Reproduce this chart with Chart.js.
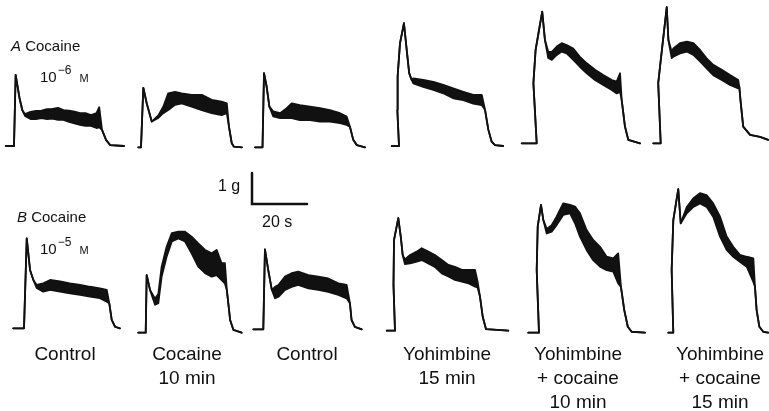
<!DOCTYPE html>
<html lang="en">
<head>
  <meta charset="UTF-8">
  <script src="https://cdn.jsdelivr.net/npm/chart.js"></script>
  <title>Cocaine / yohimbine contractions</title>
  <style>
    body { margin: 0; background: #fff; }
    #wrap { position: relative; width: 769px; height: 411px; overflow: hidden; font-family: "Liberation Sans", Arial, sans-serif; color: #111; }
    canvas { position: absolute; left: 0; top: 0; }
    .lbl { position: absolute; white-space: nowrap; line-height: 1; }
    .col { position: absolute; transform: translateX(-50%); text-align: center; font-size: 19px; line-height: 24px; white-space: nowrap; top: 342px; }
    .sc { font-variant: small-caps; margin-left: 8px; }
    sup { font-size: 12px; position: relative; top: -2px; margin-left: 1px; }
  </style>
</head>
<body>
  <div id="wrap">
    <canvas id="chart" width="769" height="411"></canvas>

    <div class="lbl" style="left:11px;top:38px;font-size:15px"><i>A</i> Cocaine</div>
    <div class="lbl" style="left:40px;top:66px;font-size:15px">10<sup>−6</sup><span class="sc">m</span></div>
    <div class="lbl" style="left:17px;top:209px;font-size:15px"><i>B</i> Cocaine</div>
    <div class="lbl" style="left:40px;top:238px;font-size:15px">10<sup>−5</sup><span class="sc">m</span></div>
    <div class="lbl" style="left:218px;top:178px;font-size:16px">1 g</div>
    <div class="lbl" style="left:262px;top:214px;font-size:16px">20 s</div>

    <div class="col" style="left:65px">Control</div>
    <div class="col" style="left:187px">Cocaine<br>10 min</div>
    <div class="col" style="left:307px">Control</div>
    <div class="col" style="left:447px">Yohimbine<br>15 min</div>
    <div class="col" style="left:578px">Yohimbine<br>+ cocaine<br>10 min</div>
    <div class="col" style="left:720px">Yohimbine<br>+ cocaine<br>15 min</div>
  </div>

  <script>
    // time (s) from stimulus onset, tension (g) above baseline: lower / upper edge of the noisy trace
    // row A: cocaine 1e-6 M
    const a1_t  = [-3, 0, 0.6, 2, 3, 4, 6, 8, 10, 12, 14, 16, 18, 20, 22, 24, 26, 28, 30, 31, 32, 33.5, 35, 40];
    const a1_lo = [0, 0, 2.29, 1.55, 1.16, 0.97, 0.87, 0.87, 0.90, 0.87, 0.88, 0.84, 0.84, 0.78, 0.73, 0.68, 0.65, 0.65, 0.58, 0.60, 0.52, 0.19, 0.03, 0];
    const a1_hi = [0, 0, 2.29, 1.55, 1.16, 1.03, 1.10, 1.13, 1.14, 1.19, 1.20, 1.23, 1.16, 1.14, 1.11, 1.06, 1.06, 1.00, 1.06, 1.25, 0.52, 0.19, 0.03, 0];

    const a2_t  = [-1, 0, 0.84, 2.07, 3.9, 6.3, 8.1, 9.9, 12.4, 14.8, 18.4, 22.1, 25.7, 29.3, 31.2, 32.0, 33.0, 33.8, 36.7];
    const a2_lo = [0, 0, 1.92, 1.42, 0.83, 0.95, 1.10, 1.20, 1.37, 1.42, 1.31, 1.20, 1.10, 1.04, 1.10, 0.66, 0.13, 0.02, 0];
    const a2_hi = [0, 0, 1.92, 1.42, 0.83, 1.03, 1.31, 1.74, 1.79, 1.74, 1.69, 1.69, 1.53, 1.47, 1.42, 0.66, 0.13, 0.02, 0];

    const a3_t  = [-2.7, 0, 0.55, 1.5, 2.5, 3.9, 6.4, 8.8, 10.6, 13.6, 17.3, 20.9, 24.5, 28.2, 30.6, 31.8, 33.0, 34.3, 37.3];
    const a3_lo = [0, 0, 2.39, 1.96, 1.31, 1.00, 0.94, 0.94, 0.94, 0.88, 0.88, 0.83, 0.83, 0.78, 0.72, 0.66, 0.24, 0.07, 0];
    const a3_hi = [0, 0, 2.39, 1.96, 1.31, 1.16, 1.10, 1.26, 1.42, 1.36, 1.31, 1.26, 1.20, 1.10, 0.99, 0.66, 0.24, 0.07, 0];

    const a4_t  = [-2.65, 0, -0.6, -0.5, 0.36, 1.8, 2.8, 3.7, 4.6, 5.2, 8.8, 12.5, 16.1, 19.7, 23.4, 27.0, 30.1, 31.3, 32.5, 33.7, 34.9, 37.9];
    const a4_lo = [0, 0, 1.16, 2.24, 3.31, 3.96, 3.10, 2.35, 2.13, 2.02, 1.91, 1.81, 1.70, 1.54, 1.48, 1.37, 1.32, 1.16, 0.52, 0.14, 0.03, 0];
    const a4_hi = [0, 0, 1.16, 2.24, 3.31, 3.96, 3.10, 2.35, 2.13, 2.18, 2.13, 2.07, 1.97, 1.86, 1.75, 1.65, 1.65, 1.16, 0.52, 0.14, 0.03, 0];

    const a5_t  = [-5.45, 0, -1.2, -0.4, 2.0, 3.0, 4.2, 5.5, 7.3, 9.1, 10.9, 13.3, 15.7, 18.2, 21.2, 24.2, 27.3, 29.1, 30.3, 30.9, 32.1, 33.3, 37.6];
    const a5_lo = [0, 0, 1.94, 3.01, 4.25, 3.33, 2.75, 2.69, 2.85, 2.96, 2.90, 2.69, 2.47, 2.26, 2.04, 1.88, 1.72, 1.61, 1.66, 1.40, 0.54, 0.11, 0];
    const a5_hi = [0, 0, 1.94, 3.01, 4.25, 3.33, 2.95, 2.95, 3.12, 3.23, 3.17, 3.06, 2.79, 2.58, 2.37, 2.20, 2.04, 1.99, 2.26, 1.40, 0.54, 0.11, 0];

    const a6_t  = [-2.7, 0, -0.9, -0.25, 2.2, 2.8, 4.0, 4.6, 7.0, 9.5, 11.9, 14.3, 16.7, 19.1, 22.2, 25.2, 28.2, 28.6, 29.0, 30.0, 32.5, 36.1, 39.1];
    const a6_lo = [0, 0, 1.94, 2.47, 4.39, 3.33, 2.75, 2.79, 2.90, 2.96, 2.85, 2.64, 2.42, 2.20, 2.04, 1.88, 1.77, 1.81, 1.40, 0.54, 0.27, 0.21, 0.11];
    const a6_hi = [0, 0, 1.94, 2.47, 4.39, 3.33, 2.95, 3.06, 3.23, 3.28, 3.23, 3.01, 2.74, 2.53, 2.37, 2.20, 2.04, 1.81, 1.40, 0.54, 0.27, 0.21, 0.11];

    // row B: cocaine 1e-5 M
    const b1_t  = [-3.9, 0, 1.0, 2.2, 3.4, 4.6, 7.0, 9.5, 13.1, 16.7, 20.4, 24.0, 27.6, 30.1, 31.0, 31.9, 33.1, 34.9];
    const b1_lo = [0, 0, 2.90, 1.88, 1.56, 1.30, 1.18, 1.24, 1.18, 1.13, 1.08, 1.02, 0.97, 0.86, 0.81, 0.27, 0.05, 0];
    const b1_hi = [0, 0, 2.90, 1.88, 1.56, 1.40, 1.45, 1.56, 1.51, 1.45, 1.40, 1.34, 1.29, 1.24, 0.81, 0.27, 0.05, 0];

    const b2_t  = [-2.7, 0, 0.36, 1.56, 3.4, 4.6, 5.0, 5.8, 7.6, 9.5, 11.9, 14.3, 16.7, 19.1, 21.6, 24.0, 25.8, 27.6, 28.8, 29.5, 30.7, 31.9, 34.9];
    const b2_lo = [0, 0, 1.86, 1.38, 0.90, 0.95, 1.25, 1.81, 2.45, 2.94, 3.04, 2.94, 2.56, 2.13, 1.92, 1.81, 1.86, 1.70, 1.59, 1.38, 0.41, 0.09, 0];
    const b2_hi = [0, 0, 1.86, 1.38, 1.10, 1.25, 1.55, 2.13, 2.77, 3.21, 3.26, 3.26, 3.10, 2.88, 2.67, 2.56, 2.67, 2.24, 2.24, 1.38, 0.41, 0.09, 0];

    const b3_t  = [-3.6, 0, 0.6, 1.8, 3.1, 4.3, 5.5, 7.9, 10.3, 12.7, 16.4, 20.0, 23.6, 27.3, 30.3, 31.5, 32.1, 33.3, 35.8];
    const b3_lo = [0, 0, 2.58, 1.91, 1.27, 1.00, 1.05, 1.27, 1.37, 1.43, 1.32, 1.27, 1.21, 1.11, 1.00, 0.84, 0.30, 0.08, 0];
    const b3_hi = [0, 0, 2.58, 1.91, 1.27, 1.37, 1.43, 1.70, 1.81, 1.86, 1.75, 1.70, 1.64, 1.48, 1.43, 0.84, 0.30, 0.08, 0];

    const b4_t  = [-3.0, 0, -0.55, -0.36, 0.36, 1.2, 2.1, 2.8, 3.6, 5.5, 7.9, 9.7, 12.1, 14.5, 17.0, 19.4, 21.8, 24.3, 26.7, 29.1, 30.0, 30.9, 31.9, 33.1, 41.2];
    const b4_lo = [0, 0, 1.47, 2.92, 3.25, 3.63, 3.03, 2.44, 2.15, 2.17, 2.23, 2.28, 2.17, 2.06, 1.85, 1.75, 1.64, 1.58, 1.53, 1.42, 1.40, 1.10, 0.45, 0.05, 0];
    const b4_hi = [0, 0, 1.47, 2.92, 3.25, 3.63, 3.03, 2.44, 2.30, 2.44, 2.55, 2.66, 2.55, 2.44, 2.28, 2.12, 2.06, 1.96, 1.96, 1.96, 1.60, 1.10, 0.45, 0.05, 0];

    const b5_t  = [-3.9, 0, -0.84, -0.47, 0.73, 1.56, 2.8, 4.6, 6.4, 8.8, 11.3, 13.1, 14.9, 17.3, 19.7, 22.2, 24.6, 27.0, 28.8, 29.8, 31.0, 32.3, 33.7, 38.5];
    const b5_lo = [0, 0, 2.02, 3.42, 4.12, 3.64, 3.20, 3.26, 3.47, 3.80, 3.85, 3.53, 3.10, 2.67, 2.34, 2.13, 2.02, 1.97, 1.59, 1.48, 0.73, 0.19, 0.03, 0];
    const b5_hi = [0, 0, 2.02, 3.42, 4.12, 3.64, 3.35, 3.47, 3.74, 4.17, 4.12, 4.07, 3.85, 3.31, 2.99, 2.77, 2.45, 2.40, 2.56, 1.48, 0.73, 0.19, 0.03, 0];

    const b6_t  = [-1.8, 0, -0.6, 0, 1.8, 2.7, 4.9, 7.3, 9.7, 12.1, 14.5, 17.0, 19.4, 21.8, 24.2, 26.7, 29.1, 29.7, 30.3, 31.3, 32.7, 34.5];
    const b6_lo = [0, 0, 2.02, 3.63, 4.63, 3.53, 3.85, 4.06, 4.17, 4.06, 3.74, 3.10, 2.67, 2.45, 2.29, 2.13, 1.64, 1.48, 0.73, 0.19, 0.03, 0];
    const b6_hi = [0, 0, 2.02, 3.63, 4.63, 3.53, 4.05, 4.34, 4.50, 4.44, 4.17, 3.74, 3.10, 2.77, 2.51, 2.45, 2.40, 1.48, 0.73, 0.19, 0.03, 0];

    // calibration bar: 1 g, 20 s
    const bar_t = [0, 0, 20];
    const bar_g = [1, 0, 0];

    // page layout (px): stimulus onset x, baseline y of every panel
    const W = 769, H = 411, PX_S = 2.75, PX_G = 31;
    const panels = [
      [a1_t, a1_lo, a1_hi, 14, 146], [a2_t, a2_lo, a2_hi, 141, 147.3], [a3_t, a3_lo, a3_hi, 262.5, 147.3],
      [a4_t, a4_lo, a4_hi, 399, 146], [a5_t, a5_lo, a5_hi, 536.7, 143.3], [a6_t, a6_lo, a6_hi, 660.7, 143.3],
      [b1_t, b1_lo, b1_hi, 24, 328.3], [b2_t, b2_lo, b2_hi, 145.7, 332.7], [b3_t, b3_lo, b3_hi, 263.3, 329.3],
      [b4_t, b4_lo, b4_hi, 395, 330.7], [b5_t, b5_lo, b5_hi, 539, 332.7], [b6_t, b6_lo, b6_hi, 673.3, 332.7]
    ];

    function place(t, g, ox, oy) {
      return t.map((v, i) => ({ x: ox / PX_S + v, y: (H - oy) / PX_G + g[i] }));
    }

    const datasets = [];
    panels.forEach(([t, lo, hi, ox, oy]) => {
      datasets.push({ data: place(t, lo, ox, oy), borderColor: "#111", borderWidth: 1.8, fill: false });
      datasets.push({ data: place(t, hi, ox, oy), borderColor: "#111", borderWidth: 1.8, fill: "-1", backgroundColor: "#111" });
    });
    datasets.push({ data: place(bar_t, bar_g, 252, 204), borderColor: "#111", borderWidth: 2.5, fill: false, borderJoinStyle: "miter" });

    new Chart(document.getElementById("chart"), {
      type: "line",
      data: { datasets },
      options: {
        responsive: false,
        animation: false,
        layout: { padding: 0 },
        elements: { point: { radius: 0 }, line: { tension: 0, borderJoinStyle: "round", borderCapStyle: "round" } },
        plugins: { legend: { display: false }, tooltip: { enabled: false } },
        scales: {
          x: { type: "linear", min: 0, max: W / PX_S, display: false },
          y: { min: 0, max: H / PX_G, display: false }
        }
      }
    });
  </script>
</body>
</html>
